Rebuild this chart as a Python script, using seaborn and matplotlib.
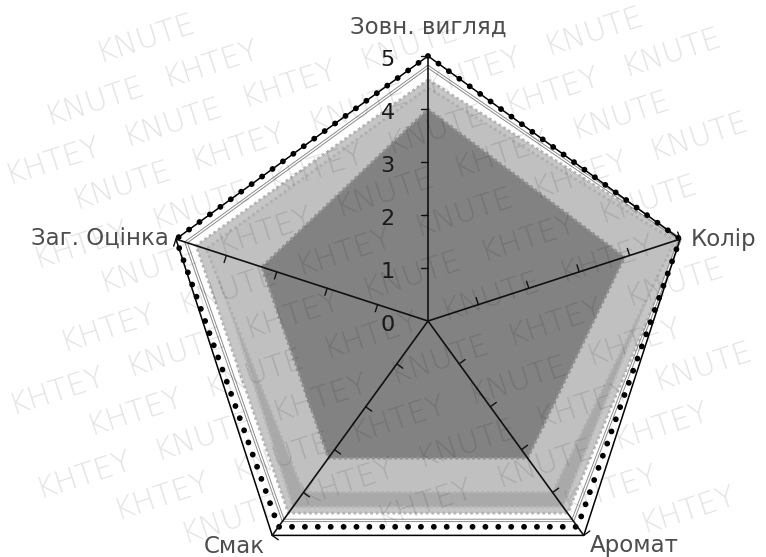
import numpy as np
import matplotlib
matplotlib.use("Agg")
import matplotlib.pyplot as plt
import seaborn as sns
import pandas as pd

# ---- data ----
categories = ["Зовн. вигляд", "Колір", "Аромат", "Смак", "Заг. Оцінка"]
tick_values = [0, 1, 2, 3, 4, 5]
tick_labels = ["0", "1", "2", "3", "4", "5"]
frame_max = [5, 5, 5, 5, 5]
series_dotted = [5.0, 5.0, 4.8, 4.8, 5.0]
series_white = [4.8, 5.0, 4.65, 4.65, 4.8]
series_light_outer = [4.55, 5.0, 4.48, 4.48, 4.6]
series_medium = [4.3, 4.8, 4.34, 4.34, 4.3]
series_light_inner = [4.4, 4.9, 4.0, 4.0, 4.4]
series_dark = [4.0, 3.9, 3.2, 3.2, 3.3]
watermark_words = ["KNUTE", "KHTEY"]

sns.set_style("white")
plt.rcParams["font.family"] = ["DejaVu Sans"]

W, H, DPI = 766, 557, 100
fig = plt.figure(figsize=(W / DPI, H / DPI), dpi=DPI)
ax = fig.add_axes([0, 0, 1, 1])
unit = 53.0
cx, cy = 428.0, 321.0
ax.set_xlim(-cx / unit, (W - cx) / unit)
ax.set_ylim(-(H - cy) / unit, cy / unit)
ax.set_axis_off()

n = len(categories)
theta = np.arange(n) * 2 * np.pi / n


def xy(vals):
    v = np.asarray(vals + vals[:1], dtype=float)
    t = np.concatenate([theta, theta[:1]])
    return v * np.sin(t), v * np.cos(t)


def line(vals, **kw):
    x, y = xy(vals)
    df = pd.DataFrame({"x": x, "y": y, "i": np.arange(len(x))})
    sns.lineplot(data=df, x="x", y="y", sort=False, estimator=None, ax=ax,
                 legend=False, **kw)


def fill(vals, color, edge, z):
    x, y = xy(vals)
    ax.fill(x, y, color=color, lw=0, zorder=z)
    line(vals, color=edge, lw=2.0, linestyle=(0, (1, 1)), zorder=z + 0.1)


fill(series_light_outer, "#c6c6c6", "#b4b4b4", 2)
fill(series_medium, "#a9a9a9", "#b8b8b8", 3)
fill(series_light_inner, "#c0c0c0", "#b0b0b0", 4)
fill(series_dark, "#828282", "#929292", 5)

# white double line
line(series_white, color="#8c8c8c", lw=2.4, zorder=6)
line(series_white, color="white", lw=1.0, zorder=6.1)

# outer solid frame line
line(frame_max, color="black", lw=1.1, zorder=7)
# black dotted line
lx, ly = xy(series_dotted)
ax.plot(lx, ly, color="black", lw=4.2, linestyle=(0, (0.01, 2.2)),
        dash_capstyle="round", zorder=8)

# spokes with tick marks
tick_len = 0.14
for t in theta:
    d = np.array([np.sin(t), np.cos(t)])
    p = np.array([-d[1], d[0]])  # CCW perpendicular
    ax.plot([0, 5 * d[0]], [0, 5 * d[1]], color="#111111", lw=1.2, zorder=9)
    for v in tick_values[1:]:
        a = v * d
        b = a + tick_len * p
        ax.plot([a[0], b[0]], [a[1], b[1]], color="#111111", lw=1.0, zorder=9)

# tick labels on the top axis
for v, s in zip(tick_values, tick_labels):
    ax.annotate(s, (0, v), xytext=(-24, -3), textcoords="offset points",
                ha="right", va="center", fontsize=16, color="#1a1a1a", zorder=10)

# category labels
offsets = [((0, 21), "center", "center"), ((8, 0), "left", "center"),
           ((4, -12), "left", "baseline"), ((-5, -13), "right", "baseline"),
           ((-5, 0), "right", "center")]
for t, lab, (off, ha, va) in zip(theta, categories, offsets):
    ax.annotate(lab, (5 * np.sin(t), 5 * np.cos(t)), xytext=off,
                textcoords="offset points", ha=ha, va=va,
                fontsize=16.5, color="#4d4d4d", zorder=10)

# watermark (words placed along slanted rows, kept inside the figure)
ang = np.deg2rad(18)
u = np.array([np.cos(ang), np.sin(ang)])
perp = np.array([-np.sin(ang), np.cos(ang)])
step = 124.0
wm = []
for k in range(-12, 24):
    base = perp * (k * 44.0)
    phase = (k % 2) * step * 0.45
    for j in range(-8, 16):
        pt = base + u * (phase + j * step)
        word = watermark_words[(j + k) % 2]
        txt = fig.text(pt[0] / W, pt[1] / H, word, rotation=18,
                       rotation_mode="anchor", fontsize=22,
                       fontweight="light", color="black", alpha=0.11,
                       ha="left", va="baseline", zorder=20)
        wm.append(txt)

fig.canvas.draw()
r = fig.canvas.get_renderer()
for txt in wm:
    bb = txt.get_window_extent(r)
    if bb.x0 < 1 or bb.y0 < 1 or bb.x1 > W - 1 or bb.y1 > H - 1:
        txt.remove()

fig.savefig("out.png", dpi=DPI)
